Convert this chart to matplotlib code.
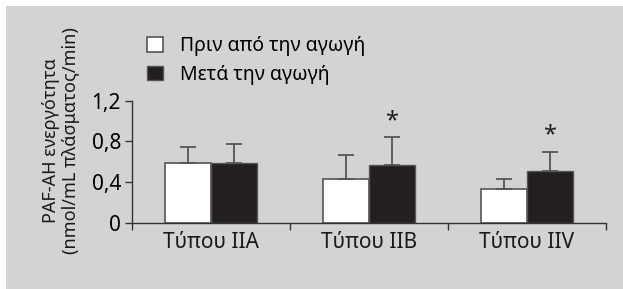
import matplotlib.pyplot as plt
import numpy as np

plt.rcParams['font.family'] = ['Noto Sans', 'DejaVu Sans']

categories = ['Τύπου IIA', 'Τύπου IIB', 'Τύπου IIV']
before = [0.59, 0.43, 0.33]
before_err = [0.15, 0.24, 0.10]
after = [0.59, 0.57, 0.51]
after_err = [0.18, 0.27, 0.19]
significant = [False, True, True]
yticks = [0, 0.4, 0.8, 1.2]
ytick_labels = ['0', '0,4', '0,8', '1,2']

fig = plt.figure(figsize=(6.23, 2.89), dpi=100)
fig.patch.set_facecolor('white')
# gray panel behind the chart
panel = plt.Rectangle((6 / 623, 0), 1, 1 - 6 / 289, transform=fig.transFigure,
                      facecolor='#d3d3d3', edgecolor='none', zorder=-10)
fig.patches.append(panel)

ax = fig.add_axes([132 / 623, 1 - 222.7 / 289, (606 - 132) / 623, 122 / 289])
ax.set_facecolor('none')

x = np.arange(len(categories))
w = 0.29
ekw = dict(ecolor='#555555', elinewidth=1.3, capsize=5.5, capthick=1.3)
ax.bar(x - w / 2, before, w, color='white', edgecolor='#555555', linewidth=1.2,
       yerr=[[0] * 3, before_err], error_kw=ekw, label='Πριν από την αγωγή')
ax.bar(x + w / 2, after, w, color='#231f20', edgecolor='#555555', linewidth=1.0,
       yerr=[[0] * 3, after_err], error_kw=ekw, label='Μετά την αγωγή')

for i, sig in enumerate(significant):
    if sig:
        ax.text(x[i] + w / 2, after[i] + after_err[i] + 0.04, '*', ha='center',
                va='bottom', fontsize=17, color='#231f20')

ax.set_xlim(-0.5, 2.5)
ax.set_ylim(0, 1.2)
ax.set_yticks(yticks)
ax.set_yticklabels(ytick_labels)
ax.set_xticks([-0.5, 0.5, 1.5, 2.5])
ax.set_xticklabels([])
ax.tick_params(axis='x', length=5, width=1, color='#333333', direction='out')
ax.tick_params(axis='y', length=5, width=1, color='#333333', labelsize=15, pad=3)
for i, c in enumerate(categories):
    ax.text(x[i], -0.09, c, ha='center', va='top', fontsize=15, color='#1a1a1a')

for s in ['top', 'right']:
    ax.spines[s].set_visible(False)
for s in ['left', 'bottom']:
    ax.spines[s].set_color('#333333')
    ax.spines[s].set_linewidth(1)

ax.set_ylabel('PAF-AH ενεργότητα\n(nmol/mL πλάσματος/min)', fontsize=13,
              linespacing=1.15, color='#1a1a1a')
ax.yaxis.set_label_coords(-0.11, 0.67)

ax.legend(loc='upper left', bbox_to_anchor=(147 / 623, 1 - 36 / 289),
          bbox_transform=fig.transFigure, frameon=False, fontsize=14,
          handlelength=0.8, handleheight=0.8, handletextpad=0.9,
          labelspacing=0.45, borderpad=0, borderaxespad=0)

fig.savefig('out.png', dpi=100)
